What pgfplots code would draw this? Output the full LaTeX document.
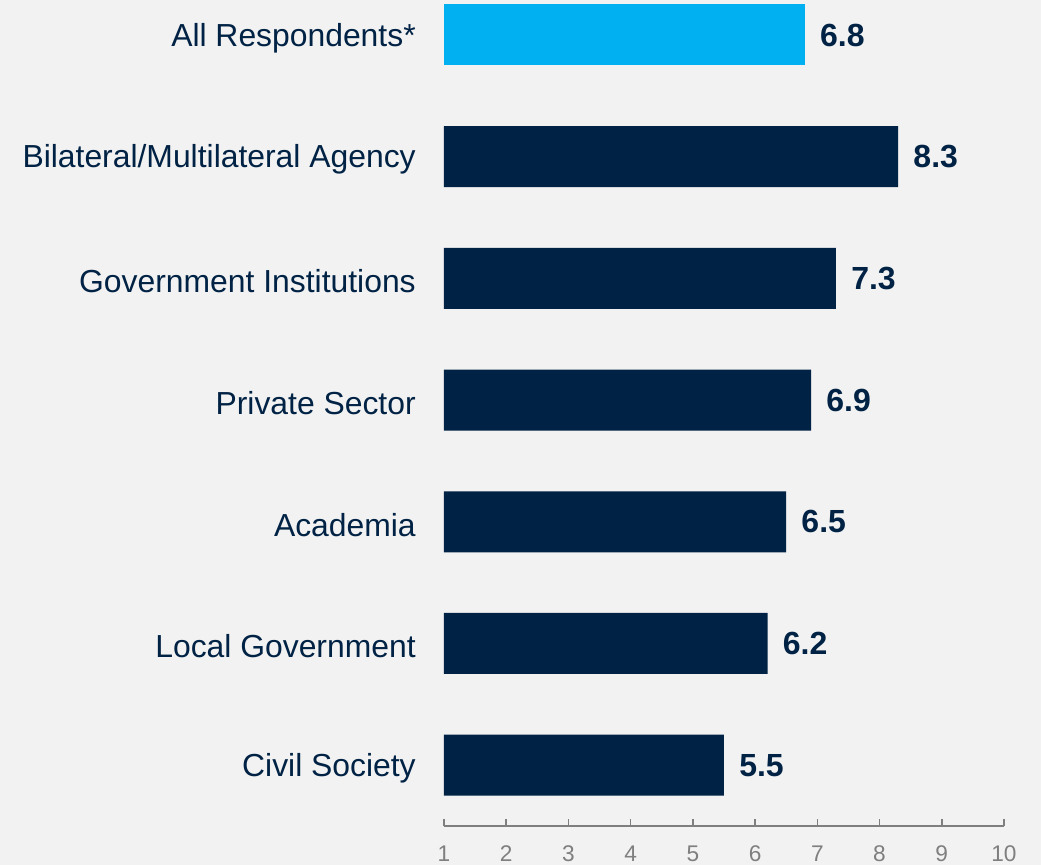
\documentclass[border=0pt]{standalone}
\usepackage{pgfplots}
\pgfplotsset{compat=1.18}
\usepackage{pgfplotstable}
\usepackage{fontspec}
\setmainfont{Liberation Sans}
\definecolor{navy}{HTML}{002244}
\definecolor{sky}{HTML}{00B0F0}
\definecolor{bg}{HTML}{F2F2F2}
\definecolor{tickgray}{HTML}{7F7F7F}

\pgfplotstableread{
y v
5 8.3
4 7.3
3 6.9
2 6.5
1 6.2
0 5.5
}\groups
\pgfplotstableread{
y v
6 6.8
}\allresp

\begin{document}
\begin{tikzpicture}
\fill[bg] (-333pt,-29.25pt) rectangle (447.75pt,619.5pt);
\begin{axis}[
  at={(0,0)}, anchor=south west,
  scale only axis,
  width=420pt, height=619.5pt,
  xmin=0, xmax=9,
  ymin=-0.5, ymax=6.2876,
  clip=false,
  axis x line*=bottom,
  axis y line*=left,
  y axis line style={draw=none},
  x axis line style={draw=tickgray, line width=1.5pt},
  xtick={0,...,9},
  xticklabels={1,2,3,4,5,6,7,8,9,10},
  tick align=inside,
  major tick length=5.25pt,
  xtick style={draw=tickgray, line width=1.2pt},
  ytick={0,...,6},
  ytick style={draw=none},
  yticklabels={Civil Society, Local Government, Academia, Private Sector, Government Institutions, Bilateral/Multilateral Agency, All Respondents*},
  yticklabel style={font=\fontsize{23.9pt}{28pt}\selectfont, text=navy, anchor=east, inner sep=0pt, xshift=-15.75pt, yshift=-2.25pt},
  xticklabel style={font=\fontsize{17pt}{21pt}\selectfont, text=tickgray, anchor=center, inner sep=0pt, yshift=-20.5pt},
  /pgf/number format/assume math mode=true,
  /pgf/number format/fixed,
  /pgf/number format/precision=1,
  /pgf/number format/fixed zerofill,
  xbar, bar width=45.75pt, bar shift=0pt,
  nodes near coords,
  every node near coord/.append style={font=\fontsize{24pt}{28pt}\selectfont\bfseries, text=navy, anchor=west, inner sep=0pt, xshift=11.25pt},
  xticklabel style={/pgf/number format/fixed zerofill=false},
]
\addplot[fill=navy, draw=none] table[x expr=\thisrow{v}-1, y=y, point meta=\thisrow{v}] {\groups};
\addplot[fill=sky, draw=none] table[x expr=\thisrow{v}-1, y=y, point meta=\thisrow{v}] {\allresp};
\end{axis}
\pgfresetboundingbox
\useasboundingbox (-333pt,-29.25pt) rectangle (447.75pt,619.5pt);
\end{tikzpicture}
\end{document}
